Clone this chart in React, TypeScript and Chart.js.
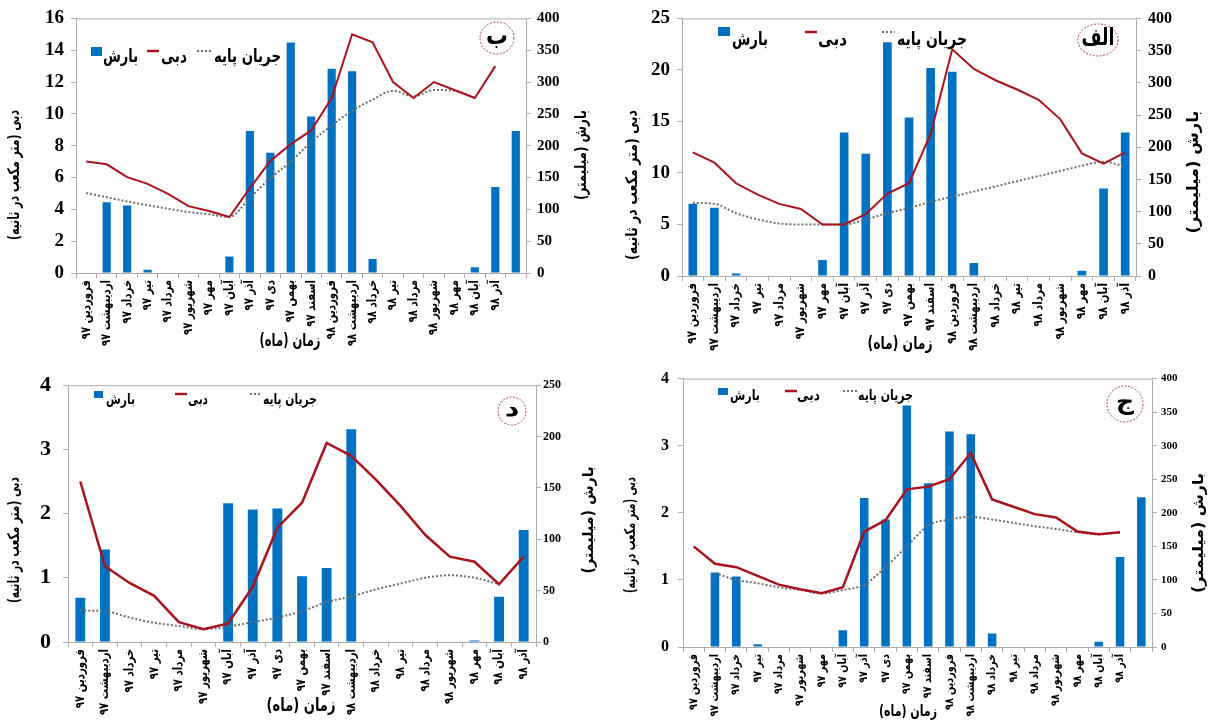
import React, { useEffect, useRef } from 'react';
import { Chart, registerables } from 'chart.js';
Chart.register(...registerables);

// ---------- data ----------
const labelsA = ['فروردین ۹۷', 'اردیبهشت ۹۷', 'خرداد ۹۷', 'تیر ۹۷', 'مرداد ۹۷', 'شهریور ۹۷', 'مهر ۹۷', 'آبان ۹۷', 'آذر ۹۷', 'دی ۹۷', 'بهمن ۹۷', 'اسفند ۹۷', 'فروردین ۹۸', 'اردیبهشت ۹۸', 'خرداد ۹۸', 'تیر ۹۸', 'مرداد ۹۸', 'شهریور ۹۸', 'مهر ۹۸', 'آبان ۹۸', 'آذر ۹۸'];
const labelsB = ['فروردین ۹۷', 'اردیبهشت ۹۷', 'خرداد ۹۷', 'تیر ۹۷', 'مرداد ۹۷', 'شهریور ۹۷', 'مهر ۹۷', 'آبان ۹۷', 'آذر ۹۷', 'دی ۹۷', 'بهمن ۹۷', 'اسفند ۹۷', 'فروردین ۹۸', 'اردیبهشت ۹۸', 'خرداد ۹۸', 'تیر ۹۸', 'مرداد ۹۸', 'شهریور ۹۸', 'مهر ۹۸', 'آبان ۹۸', 'آذر ۹۸', ''];
const labelsC = ['فروردین ۹۷', 'اردیبهشت ۹۷', 'خرداد ۹۷', 'تیر ۹۷', 'مرداد ۹۷', 'شهریور ۹۷', 'مهر ۹۷', 'آبان ۹۷', 'آذر ۹۷', 'دی ۹۷', 'بهمن ۹۷', 'اسفند ۹۷', 'فروردین ۹۸', 'اردیبهشت ۹۸', 'خرداد ۹۸', 'تیر ۹۸', 'مرداد ۹۸', 'شهریور ۹۸', 'مهر ۹۸', 'آبان ۹۸', 'آذر ۹۸', ''];
const labelsD = ['فروردین ۹۷', 'اردیبهشت ۹۷', 'خرداد ۹۷', 'تیر ۹۷', 'مرداد ۹۷', 'شهریور ۹۷', 'آبان ۹۷', 'آذر ۹۷', 'دی ۹۷', 'بهمن ۹۷', 'اسفند ۹۷', 'اردیبهشت ۹۸', 'خرداد ۹۸', 'تیر ۹۸', 'مرداد ۹۸', 'شهریور ۹۸', 'مهر ۹۸', 'آبان ۹۸', 'آذر ۹۸'];

// الف
const rainA = [112, 106, 4, 0, 0, 0, 25, 223, 190, 363, 246, 323, 317, 20, 0, 0, 0, 0, 8, 136, 223];
const flowA = [12.0, 11.0, 9.0, 7.9, 7.0, 6.5, 5.0, 5.0, 6.0, 8.0, 9.0, 13.8, 22.0, 20.1, 19.0, 18.1, 17.1, 15.2, 11.9, 10.9, 12.0];
const baseA = [7.1, 7.0, 6.1, 5.5, 5.1, 5.0, 5.0, 5.0, 5.5, 6.1, 6.6, 7.2, 7.7, 8.2, 8.7, 9.2, 9.7, 10.2, 10.7, 11.1, 10.6];

// ب
const rainB = [0, 111, 106, 5, 0, 0, 0, 26, 223, 189, 362, 246, 321, 317, 22, 0, 0, 0, 0, 9, 135, 223];
const flowB = [7.0, 6.83, 6.02, 5.6, 4.97, 4.2, 3.9, 3.52, 5.34, 7.04, 8.1, 8.96, 11.0, 15.0, 14.5, 12.0, 11.0, 12.0, 11.5, 11.0, 13.0, null];
const baseB = [5.03, 4.76, 4.5, 4.26, 4.04, 3.83, 3.69, 3.52, 4.72, 5.96, 7.0, 8.24, 9.27, 10.2, 10.9, 11.45, 11.1, 11.5, 11.45, 11.0, null, null];

// ج
const rainC = [0, 111, 105, 4, 0, 0, 0, 25, 222, 190, 360, 244, 321, 317, 20, 0, 0, 0, 0, 8, 134, 223];
const flowC = [1.5, 1.24, 1.19, 1.06, 0.93, 0.86, 0.8, 0.89, 1.72, 1.89, 2.35, 2.39, 2.5, 2.89, 2.2, 2.09, 1.98, 1.93, 1.72, 1.68, 1.71, null];
const baseC = [null, 1.1, 1.0, 0.95, 0.89, 0.85, 0.8, 0.85, 0.93, 1.19, 1.5, 1.81, 1.9, 1.94, 1.9, 1.85, 1.8, 1.76, 1.71, 1.68, 1.71, null];

// د
const rainD = [43, 90, 0, 0, 0, 0, 135, 129, 130, 64, 72, 207, 0, 0, 0, 0, 1.5, 44, 109];
const flowD = [2.5, 1.18, 0.92, 0.72, 0.31, 0.2, 0.29, 0.86, 1.78, 2.17, 3.1, 2.9, 2.53, 2.12, 1.67, 1.33, 1.25, 0.9, 1.33];
const baseD = [0.49, 0.48, 0.38, 0.3, 0.25, 0.2, 0.24, 0.31, 0.38, 0.48, 0.62, 0.71, 0.82, 0.91, 1.0, 1.04, 1.0, 0.9, null];

const legendRain = 'بارش';
const legendFlow = 'دبی';
const legendBase = 'جریان پایه';
const titleY = 'دبی (متر مکعب در ثانیه)';
const titleY1 = 'بارش (میلیمتر)';
const titleX = 'زمان (ماه)';

// ---------- styles ----------
const BLUE = '#0070C0';
const RED = '#A8141E';
const GREY = '#6E6E6E';
const AXIS = '#ADADAD';
const SERIF = "'Liberation Serif', 'Times New Roman', serif";
const ARAB = "'DejaVu Sans', sans-serif";

type Txt = { x: number; y: number; w: number; size: number };
type Panel = {
  x: number; y: number; w: number; h: number;
  labels: string[]; rain: number[]; flow: (number | null)[]; base: (number | null)[];
  yMax: number; yStep: number; y1Max: number;
  area: { left: number; right: number; top: number; bottom: number };
  yFont: number; y1Font: number; yPad: number; y1Pad: number; xFont: number; xSx: number;
  redW: number;
  circle: { x: number; y: number; rx: number; ry: number; text: string; size: number; w: number };
  legend: { size: number; sq: number[]; rain: number[]; red: number[]; flow: number[]; dot: number[]; base: number[] };
  yTitle: Txt; y1Title: Txt; xTitle: Txt;
};

const panels: Panel[] = [
  {
    x: 0, y: 0, w: 600, h: 360, labels: labelsB, rain: rainB, flow: flowB, base: baseB,
    yMax: 16, yStep: 2, y1Max: 400,
    area: { left: 76, right: 526, top: 15, bottom: 273 },
    yFont: 19, y1Font: 15, yPad: 7, y1Pad: 6, xFont: 13, xSx: 0.78, redW: 2,
    circle: { x: 497, y: 38, rx: 17, ry: 16, text: 'ب', size: 26, w: 22 },
    legend: { size: 18, sq: [91, 47, 11, 9], rain: [103, 57, 35], red: [147, 159, 51], flow: [161, 57, 26], dot: [197, 212, 51], base: [214, 57, 67] },
    yTitle: { x: 15, y: 175, w: 130, size: 16 }, y1Title: { x: 582, y: 155, w: 90, size: 16 }, xTitle: { x: 290, y: 342, w: 61, size: 17 },
  },
  {
    x: 610, y: 0, w: 603, h: 360, labels: labelsA, rain: rainA, flow: flowA, base: baseA,
    yMax: 25, yStep: 5, y1Max: 400,
    area: { left: 72, right: 526, top: 13, bottom: 276 },
    yFont: 19, y1Font: 16, yPad: 7, y1Pad: 7, xFont: 13, xSx: 0.8, redW: 2,
    circle: { x: 488, y: 40, rx: 20, ry: 16, text: 'الف', size: 24, w: 33 },
    legend: { size: 18, sq: [108, 27, 12, 9], rain: [122, 40, 36], red: [195, 207, 32], flow: [208, 40, 29], dot: [272, 285, 32], base: [287, 40, 70] },
    yTitle: { x: 23, y: 185, w: 150, size: 16 }, y1Title: { x: 584, y: 172, w: 123, size: 16 }, xTitle: { x: 290, y: 345, w: 65, size: 17 },
  },
  {
    x: 0, y: 360, w: 600, h: 364, labels: labelsD, rain: rainD, flow: flowD, base: baseD,
    yMax: 4, yStep: 1, y1Max: 250,
    area: { left: 68, right: 536, top: 18, bottom: 282 },
    yFont: 22, y1Font: 12, yPad: 12, y1Pad: 2, xFont: 13, xSx: 0.78, redW: 2.5,
    circle: { x: 512, y: 51, rx: 14, ry: 14, text: 'د', size: 22, w: 18 },
    legend: { size: 15, sq: [94, 31, 9, 7], rain: [106, 40, 29], red: [175, 187, 34], flow: [188, 40, 20], dot: [250, 262, 34], base: [263, 40, 54] },
    yTitle: { x: 15, y: 180, w: 126, size: 16 }, y1Title: { x: 589, y: 160, w: 107, size: 15 }, xTitle: { x: 301, y: 346, w: 69, size: 18 },
  },
  {
    x: 610, y: 360, w: 603, h: 364, labels: labelsC, rain: rainC, flow: flowC, base: baseC,
    yMax: 4, yStep: 1, y1Max: 400,
    area: { left: 73, right: 542, top: 11, bottom: 287 },
    yFont: 16, y1Font: 11, yPad: 9, y1Pad: 4, xFont: 12, xSx: 0.8, redW: 2.5,
    circle: { x: 515, y: 44, rx: 18, ry: 18, text: 'ج', size: 24, w: 18 },
    legend: { size: 15, sq: [108, 28, 10, 7], rain: [120, 36, 30], red: [175, 187, 31], flow: [187, 36, 23], dot: [233, 247, 31], base: [248, 36, 55] },
    yTitle: { x: 21, y: 175, w: 116, size: 15 }, y1Title: { x: 589, y: 173, w: 120, size: 15 }, xTitle: { x: 298, y: 352, w: 58, size: 16 },
  },
];

function drawText(ctx: CanvasRenderingContext2D, text: string, x: number, y: number, size: number, target: number, align: 'left' | 'center' | 'right', rotate = 0, fixedSx = 0) {
  ctx.save();
  ctx.translate(x, y);
  if (rotate) ctx.rotate(rotate);
  ctx.font = `bold ${size}px ${ARAB}`;
  (ctx as any).direction = 'rtl';
  let sx = fixedSx;
  if (!sx) {
    const m = ctx.measureText(text).width;
    sx = Math.max(0.5, Math.min(1.3, target / m));
  }
  ctx.scale(sx, 1);
  ctx.textAlign = align;
  ctx.textBaseline = 'middle';
  ctx.fillStyle = '#000';
  ctx.fillText(text, 0, 0);
  ctx.restore();
}

function decoPlugin(p: Panel) {
  return {
    id: 'deco',
    beforeDatasetsDraw(chart: any) {
      const ctx: CanvasRenderingContext2D = chart.ctx;
      const a = chart.chartArea;
      ctx.save();
      ctx.strokeStyle = AXIS;
      ctx.lineWidth = 1;
      ctx.beginPath();
      ctx.moveTo(a.left, a.top + 0.5);
      ctx.lineTo(a.right, a.top + 0.5);
      ctx.stroke();
      const L = p.legend;
      ctx.fillStyle = BLUE;
      ctx.fillRect(L.sq[0], L.sq[1], L.sq[2], L.sq[3]);
      ctx.strokeStyle = RED;
      ctx.lineWidth = 2.5;
      ctx.beginPath();
      ctx.moveTo(L.red[0], L.red[2]);
      ctx.lineTo(L.red[1], L.red[2]);
      ctx.stroke();
      ctx.strokeStyle = GREY;
      ctx.lineWidth = 2;
      ctx.setLineDash([2, 2]);
      ctx.beginPath();
      ctx.moveTo(L.dot[0], L.dot[2]);
      ctx.lineTo(L.dot[1], L.dot[2]);
      ctx.stroke();
      ctx.restore();
      drawText(ctx, legendRain, L.rain[0], L.rain[1], L.size, L.rain[2], 'left');
      drawText(ctx, legendFlow, L.flow[0], L.flow[1], L.size, L.flow[2], 'left');
      drawText(ctx, legendBase, L.base[0], L.base[1], L.size, L.base[2], 'left');
    },
    afterDatasetsDraw(chart: any) {
      const ctx: CanvasRenderingContext2D = chart.ctx;
      const c = p.circle;
      ctx.save();
      ctx.strokeStyle = '#B04048';
      ctx.lineWidth = 1;
      ctx.setLineDash([2, 1.5]);
      ctx.beginPath();
      ctx.ellipse(c.x, c.y, c.rx, c.ry, 0, 0, Math.PI * 2);
      ctx.stroke();
      ctx.restore();
      drawText(ctx, c.text, c.x, c.y - 1, c.size, c.w, 'center');
    },
    afterDraw(chart: any) {
      const ctx: CanvasRenderingContext2D = chart.ctx;
      const xs = chart.scales.x;
      const a = chart.chartArea;
      p.labels.forEach((lab, i) => {
        if (!lab) return;
        const x = xs.getPixelForTick(i);
        drawText(ctx, lab, x, a.bottom + 7, p.xFont, 0, 'right', -Math.PI / 2, p.xSx);
      });
      drawText(ctx, titleY, p.yTitle.x, p.yTitle.y, p.yTitle.size, p.yTitle.w, 'center', -Math.PI / 2);
      drawText(ctx, titleY1, p.y1Title.x, p.y1Title.y, p.y1Title.size, p.y1Title.w, 'center', -Math.PI / 2);
      drawText(ctx, titleX, p.xTitle.x, p.xTitle.y, p.xTitle.size, p.xTitle.w, 'center');
    },
  };
}

function PanelChart({ p }: { p: Panel }) {
  const ref = useRef<HTMLCanvasElement>(null);
  useEffect(() => {
    const chart = new Chart(ref.current as HTMLCanvasElement, {
      type: 'bar',
      data: {
        labels: p.labels,
        datasets: [
          { type: 'line', label: legendFlow, data: p.flow, yAxisID: 'y', borderColor: RED, borderWidth: p.redW, pointRadius: 0, tension: 0, order: 0 } as any,
          { type: 'line', label: legendBase, data: p.base, yAxisID: 'y', borderColor: GREY, borderWidth: 2, borderDash: [2, 2], pointRadius: 0, cubicInterpolationMode: 'monotone', order: 1 } as any,
          { type: 'bar', label: legendRain, data: p.rain, yAxisID: 'y1', backgroundColor: BLUE, borderWidth: 0, barPercentage: 0.4, categoryPercentage: 1, order: 2 } as any,
        ],
      },
      options: {
        responsive: false,
        animation: false,
        devicePixelRatio: 1,
        events: [],
        layout: { padding: { top: p.area.top, left: 0, right: 0, bottom: 0 } },
        plugins: { legend: { display: false }, tooltip: { enabled: false } },
        scales: {
          x: {
            type: 'category',
            offset: true,
            grid: { display: true, drawOnChartArea: false, drawTicks: true, tickLength: 5, color: AXIS, offset: true },
            border: { display: true, color: AXIS, width: 1 },
            ticks: { display: false, autoSkip: false },
            afterFit: (s: any) => { s.height = p.h - p.area.bottom; },
          },
          y: {
            position: 'left', min: 0, max: p.yMax,
            grid: { display: true, drawOnChartArea: false, drawTicks: true, tickLength: 5, color: AXIS },
            border: { display: true, color: AXIS, width: 1 },
            ticks: { stepSize: p.yStep, padding: p.yPad, color: '#000', font: { family: SERIF, size: p.yFont, weight: 'bold' } },
            afterFit: (s: any) => { s.width = p.area.left; },
          },
          y1: {
            position: 'right', min: 0, max: p.y1Max,
            grid: { display: true, drawOnChartArea: false, drawTicks: true, tickLength: 5, color: AXIS },
            border: { display: true, color: AXIS, width: 1 },
            ticks: { stepSize: 50, padding: p.y1Pad, color: '#000', font: { family: SERIF, size: p.y1Font, weight: 'bold' } },
            afterFit: (s: any) => { s.width = p.w - p.area.right; },
          },
        },
      } as any,
      plugins: [decoPlugin(p)],
    });
    return () => chart.destroy();
  }, [p]);
  return (
    <canvas
      ref={ref}
      width={p.w}
      height={p.h}
      style={{ position: 'absolute', left: p.x, top: p.y, width: p.w, height: p.h }}
    />
  );
}

export default function App() {
  return (
    <div style={{ position: 'absolute', left: 0, top: 0, width: 1213, height: 724, background: '#fff', overflow: 'hidden' }}>
      {panels.map((p, i) => (
        <PanelChart key={i} p={p} />
      ))}
    </div>
  );
}
